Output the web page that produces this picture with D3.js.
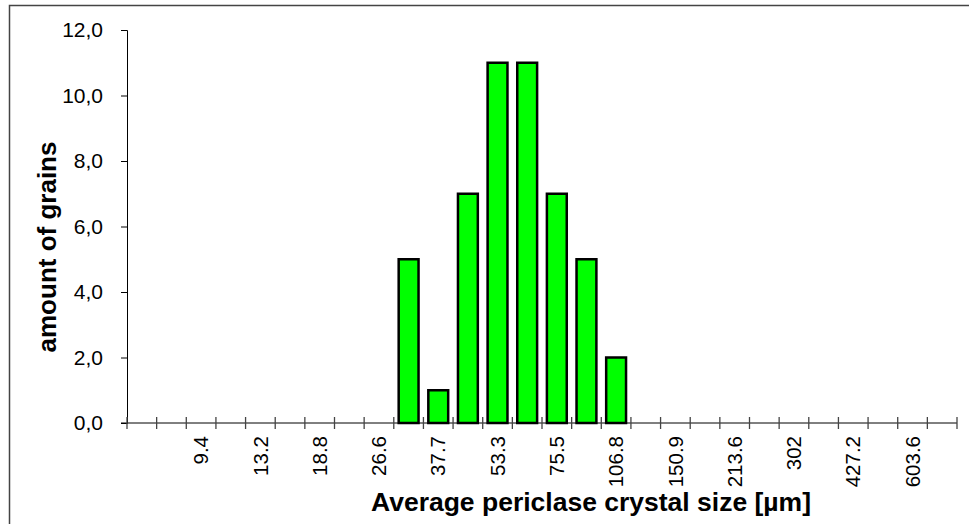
<!DOCTYPE html>
<html>
<head>
<meta charset="utf-8">
<script src="https://cdn.jsdelivr.net/npm/d3@7"></script>
<style>
  html, body { margin: 0; padding: 0; background: #fff; }
  svg { display: block; }
  text { font-family: "Liberation Sans", Arial, sans-serif; }
</style>
</head>
<body>
<svg id="chart" width="969" height="524"></svg>
<script>
// Size classes (one slot per class); only every other class is labelled on the axis
const categories = [0,1,2,3,4,5,6,7,8,9,10,11,12,13,14,15,16,17,18,19,20,21,22,23,24,25,26,27];
const categoryLabels = ["", "", "9.4", "", "13.2", "", "18.8", "", "26.6", "", "37.7", "", "53.3", "",
                        "75.5", "", "106.8", "", "150.9", "", "213.6", "", "302", "", "427.2", "", "603.6", ""];
const counts = [0,0,0,0,0,0,0,0,0,5,1,7,11,11,7,5,2,0,0,0,0,0,0,0,0,0,0,0];
const yTicks = [0, 2, 4, 6, 8, 10, 12];
const xTitle = "Average periclase crystal size [µm]";
const yTitle = "amount of grains";

const svg = d3.select("#chart");
const plotLeft = 127, plotRight = 957, plotTop = 30, plotBottom = 423;

// outer chart border
svg.append("rect")
  .attr("x", 9.5).attr("y", 5.5).attr("width", 1000).attr("height", 600)
  .attr("fill", "none").attr("stroke", "#444").attr("stroke-width", 1.5);

const x = d3.scaleBand().domain(categories).range([plotLeft, plotRight])
  .paddingInner(0.33).paddingOuter(0.165);
const y = d3.scaleLinear().domain([0, 12]).range([plotBottom, plotTop]);

// bars
svg.append("g").selectAll("rect")
  .data(categories.filter(c => counts[c] > 0))
  .join("rect")
  .attr("x", c => x(c))
  .attr("y", c => y(counts[c]))
  .attr("width", x.bandwidth())
  .attr("height", c => y(0) - y(counts[c]))
  .attr("fill", "#00ff00")
  .attr("stroke", "#000")
  .attr("stroke-width", 2.5);

// Y axis
const yAxis = svg.append("g")
  .attr("transform", `translate(${plotLeft},0)`)
  .call(d3.axisLeft(y).tickValues(yTicks).tickSize(6).tickPadding(18)
        .tickFormat(d => d.toFixed(1).replace(".", ",")));
yAxis.select(".domain").attr("stroke", "#000").attr("stroke-width", 1);
yAxis.selectAll(".tick line").attr("stroke", "#000");
yAxis.selectAll("text").attr("font-size", 21).attr("fill", "#000")
  .attr("font-family", "'Liberation Sans', Arial, sans-serif");

// X axis (labels at class centers)
const xAxis = svg.append("g")
  .attr("transform", `translate(0,${plotBottom})`)
  .call(d3.axisBottom(x).tickSize(0).tickSizeOuter(0).tickFormat(c => categoryLabels[c]));
xAxis.select(".domain").remove();
xAxis.selectAll("text")
  .attr("font-size", 20.5).attr("fill", "#000")
  .attr("font-family", "'Liberation Sans', Arial, sans-serif")
  .attr("transform", "rotate(-90)")
  .attr("text-anchor", "end")
  .attr("x", -13).attr("y", 0).attr("dy", "0.35em");

// x axis baseline
svg.append("line")
  .attr("x1", plotLeft - 6).attr("x2", plotRight)
  .attr("y1", y(0)).attr("y2", y(0))
  .attr("stroke", "#000").attr("stroke-width", 1);

// boundary ticks between classes (crossing the axis)
const step = x.step();
const gap = (step - x.bandwidth()) / 2;
const boundaries = categories.map(c => x(c) - gap).concat([x(categories[categories.length - 1]) + x.bandwidth() + gap]);
svg.append("g").selectAll("line")
  .data(boundaries)
  .join("line")
  .attr("x1", d => d).attr("x2", d => d)
  .attr("y1", y(0) - 6).attr("y2", y(0) + 6)
  .attr("stroke", "#444").attr("stroke-width", 1.3);

// axis titles
svg.append("text")
  .attr("x", 591).attr("y", 511)
  .attr("text-anchor", "middle")
  .attr("font-size", 26.5).attr("font-weight", "bold")
  .text(xTitle);

svg.append("text")
  .attr("transform", "translate(56,247) rotate(-90)")
  .attr("text-anchor", "middle")
  .attr("font-size", 26).attr("font-weight", "bold")
  .text(yTitle);
</script>
</body>
</html>
